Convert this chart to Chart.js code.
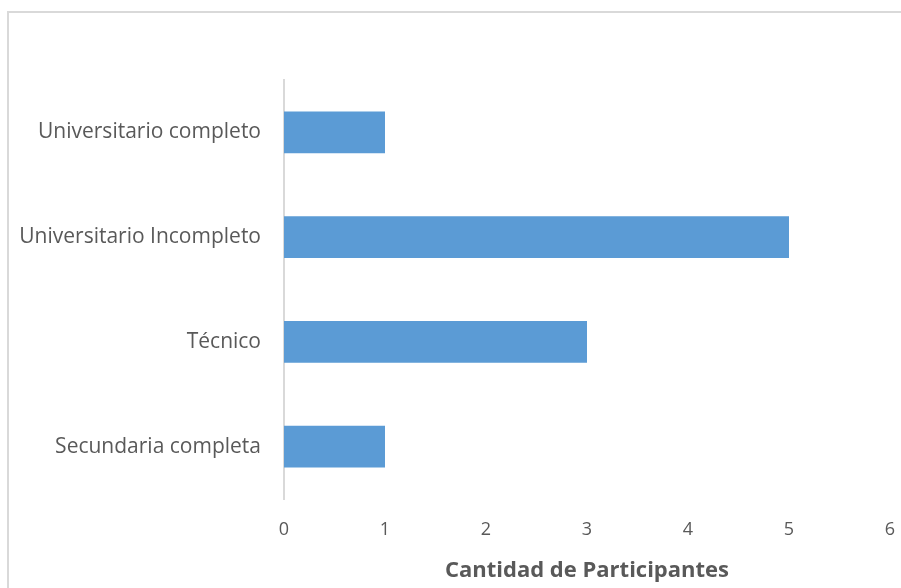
<!DOCTYPE html>
<html>
<head>
<meta charset="utf-8">
<script src="https://cdn.jsdelivr.net/npm/chart.js@4.4.0/dist/chart.umd.min.js"></script>
<style>
    html, body { margin: 0; padding: 0; background: #fff; }
    #frame { position: absolute; left: 7px; top: 11px; width: 910px; height: 600px; border: 2px solid #d9d9d9; box-sizing: border-box; }
    #wrap { position: absolute; left: 0; top: 0; width: 901px; height: 588px; }
</style>
</head>
<body>
<div id="frame"></div>
<div id="wrap"><canvas id="chart" width="901" height="588"></canvas></div>
<script>
/* Nivel educativo - barras horizontales */

const categories = ['Universitario completo', 'Universitario Incompleto', 'Técnico', 'Secundaria completa'];
const participantes = [1, 5, 3, 1];
const xTicks = [0, 1, 2, 3, 4, 5, 6];

const fontFamily = "'Open Sans', Lato, sans-serif";

const ctx = document.getElementById('chart').getContext('2d');
const chart = new Chart(ctx, {
    type: 'bar',
    data: {
        labels: categories,
        datasets: [{
            label: 'Cantidad de Participantes',
            data: participantes,
            backgroundColor: '#5b9bd5',
            borderWidth: 0,
            categoryPercentage: 0.4,
            barPercentage: 1.0,
        }]
    },
    options: {
        indexAxis: 'y',
        responsive: false,
        animation: false,
        layout: { padding: { top: 80, right: 0, left: 0, bottom: 0 } },
        scales: {
            x: {
                min: 0,
                max: 6,
                afterBuildTicks: s => { s.ticks = xTicks.map(v => ({ value: v })); },
                afterFit: s => { s.height = 89; s.paddingRight = 11; },
                grid: { display: false, drawTicks: false },
                border: { display: false },
                ticks: { color: '#595959', font: { family: fontFamily, size: 18 }, padding: 20 },
                title: {
                    display: true,
                    text: 'Cantidad de Participantes',
                    color: '#595959',
                    font: { family: fontFamily, size: 22, weight: 'bold' },
                    padding: { top: 4, bottom: 4 }
                }
            },
            y: {
                afterFit: s => { s.width = 284; },
                grid: { display: false, drawTicks: false },
                border: { display: true, color: '#d9d9d9', width: 2 },
                ticks: { color: '#595959', font: { family: fontFamily, size: 21 }, padding: 23 }
            }
        },
        plugins: {
            legend: { display: false },
            tooltip: { enabled: false }
        }
    }
});
</script>
</body>
</html>
